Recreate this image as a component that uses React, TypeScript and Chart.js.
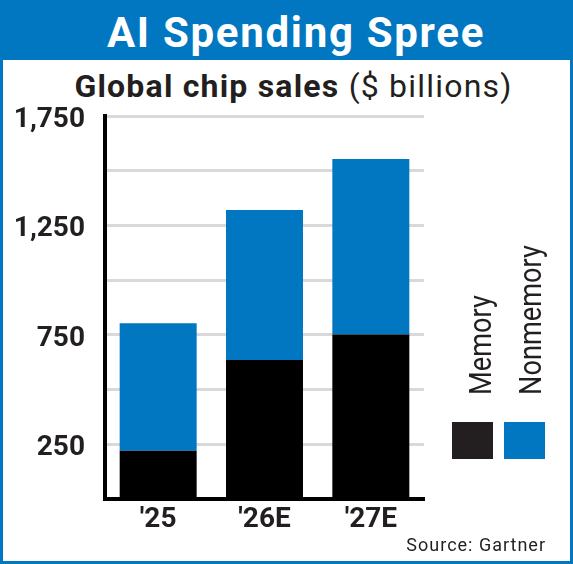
import React, { useEffect, useRef } from 'react';
import { Chart, registerables } from 'chart.js';

Chart.register(...registerables);

const categories = ["'25", "'26E", "'27E"];
const memoryValues = [221, 635, 752];
const nonmemoryValues = [582, 685, 801];
const seriesNames = ['Memory', 'Nonmemory'];
const seriesColors = ['#000000', '#0077C0'];
const legendColors = ['#231F20', '#0077C0'];
const yTickValues = [250, 750, 1250, 1750];
const yTickLabels = ['250', '750', '1,250', '1,750'];

const BLUE = '#0077C0';
const INK = '#231F20';
const FONT = 'Roboto, "Open Sans", sans-serif';

const sideLegend = {
  id: 'sideLegend',
  afterDraw(chart: any) {
    const ctx = chart.ctx;
    const datasets = chart.data.datasets;
    const boxY = 422;
    const boxW = 41;
    const boxH = 37;
    const boxX = [452, 504];
    const baseX = [491, 541];
    datasets.forEach((ds: any, i: number) => {
      ctx.save();
      ctx.fillStyle = legendColors[i];
      ctx.fillRect(boxX[i], boxY, boxW, boxH);
      ctx.restore();
      ctx.save();
      ctx.translate(baseX[i], 395);
      ctx.rotate(-Math.PI / 2);
      ctx.scale(0.85, 1);
      ctx.font = `400 32px ${FONT}`;
      ctx.fillStyle = INK;
      ctx.textAlign = 'left';
      ctx.textBaseline = 'alphabetic';
      ctx.fillText(ds.label, 0, 0);
      ctx.restore();
    });
  },
};

function ChipChart() {
  const ref = useRef<HTMLCanvasElement | null>(null);
  useEffect(() => {
    if (!ref.current) return;
    const chart = new Chart(ref.current, {
      type: 'bar',
      data: {
        labels: categories,
        datasets: [
          {
            label: seriesNames[0],
            data: memoryValues,
            backgroundColor: seriesColors[0],
            borderWidth: 0,
            barPercentage: 0.724,
            categoryPercentage: 1,
          },
          {
            label: seriesNames[1],
            data: nonmemoryValues,
            backgroundColor: seriesColors[1],
            borderWidth: 0,
            barPercentage: 0.724,
            categoryPercentage: 1,
          },
        ],
      },
      options: {
        responsive: false,
        animation: false,
        devicePixelRatio: 1,
        layout: { padding: { left: 0, top: 116, right: 149, bottom: 35 } },
        plugins: {
          legend: { display: false },
          title: { display: false },
          tooltip: { enabled: false },
        },
        scales: {
          x: {
            stacked: true,
            grid: { display: false, drawTicks: false },
            border: { display: true, color: '#000', width: 4 },
            ticks: {
              font: { family: FONT, weight: 'bold', size: 28 },
              color: INK,
              padding: 4,
            },
            afterFit: (s: any) => {
              s.height = 30;
            },
          },
          y: {
            stacked: true,
            min: 0,
            max: 1750,
            grid: { color: '#D9D9D9', lineWidth: 3, drawTicks: false },
            border: { display: true, color: '#000', width: 4 },
            ticks: {
              stepSize: 250,
              autoSkip: false,
              padding: 20,
              labelOffset: 4,
              font: { family: FONT, weight: 'bold', size: 28 },
              color: INK,
              callback: (v: any) => {
                const idx = yTickValues.indexOf(Number(v));
                return idx >= 0 ? yTickLabels[idx] : '';
              },
            },
            afterFit: (s: any) => {
              s.width = 105;
            },
          },
        },
      },
      plugins: [sideLegend],
    } as any);
    return () => chart.destroy();
  }, []);
  return (
    <canvas
      ref={ref}
      width={573}
      height={564}
      style={{ position: 'absolute', left: 0, top: 0, width: 573, height: 564 }}
    />
  );
}

export default function App() {
  return (
    <div
      style={{
        position: 'fixed',
        left: 0,
        top: 0,
        width: 573,
        height: 564,
        background: '#fff',
        overflow: 'hidden',
        fontFamily: FONT,
      }}
    >
      <div
        style={{
          position: 'absolute',
          left: 0,
          top: 0,
          width: 573,
          height: 564,
          boxSizing: 'border-box',
          borderLeft: `3px solid ${BLUE}`,
          borderRight: `3px solid ${BLUE}`,
          borderBottom: `3px solid ${BLUE}`,
        }}
      />
      <div
        style={{
          position: 'absolute',
          left: 0,
          top: 0,
          width: 573,
          height: 60,
          background: BLUE,
        }}
      />
      <div
        style={{
          position: 'absolute',
          left: 0,
          top: 0,
          width: 592,
          height: 65,
          lineHeight: '65px',
          textAlign: 'center',
          color: '#fff',
          fontWeight: 700,
          fontSize: 42,
          letterSpacing: '1.7px',
          whiteSpace: 'nowrap',
        }}
      >
        AI Spending Spree
      </div>
      <div
        style={{
          position: 'absolute',
          left: 0,
          top: 66,
          width: 587,
          height: 40,
          lineHeight: '40px',
          textAlign: 'center',
          color: INK,
          fontSize: 32,
          letterSpacing: '1.2px',
          whiteSpace: 'nowrap',
        }}
      >
        <span style={{ fontWeight: 700 }}>Global chip sales</span>{' '}
        <span style={{ fontWeight: 400 }}>($ billions)</span>
      </div>
      <ChipChart />
      <div
        style={{
          position: 'absolute',
          right: 27,
          top: 535,
          height: 20,
          lineHeight: '20px',
          color: INK,
          fontSize: 18,
          letterSpacing: '1px',
          whiteSpace: 'nowrap',
        }}
      >
        Source: Gartner
      </div>
    </div>
  );
}
